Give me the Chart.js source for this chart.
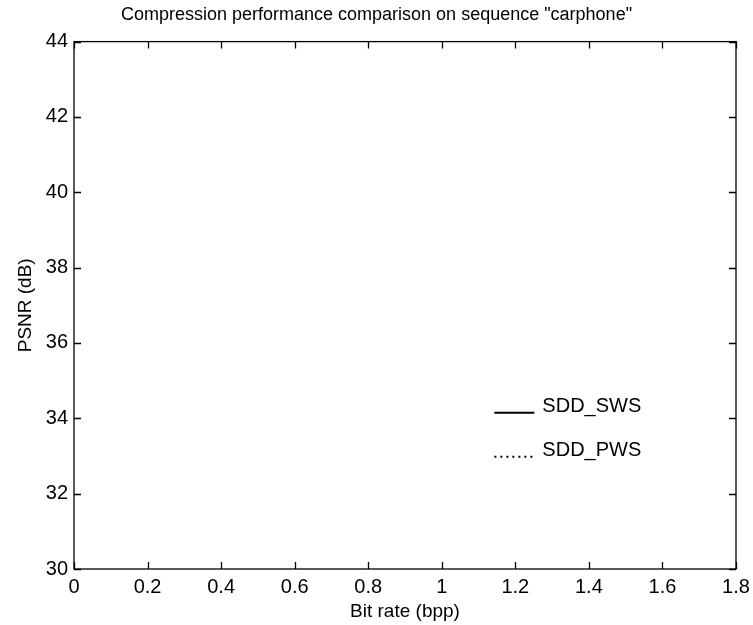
<!DOCTYPE html>
<html>
<head>
<meta charset="utf-8">
<script src="https://cdn.jsdelivr.net/npm/chart.js@4/dist/chart.umd.min.js"></script>
<style>
html,body{margin:0;padding:0;background:#fff;}
canvas{display:block;}
</style>
</head>
<body>
<canvas id="c" width="753" height="625"></canvas>
<script>
// ---- data (the reference plot shows no visible curves, only legend entries) ----
const seriesNames = ["SDD_SWS", "SDD_PWS"];
const sddSwsPoints = [];   // no visible points in the reference
const sddPwsPoints = [];   // no visible points in the reference
const xTickValues = [0, 0.2, 0.4, 0.6, 0.8, 1, 1.2, 1.4, 1.6, 1.8];
const xTickLabels = ["0", "0.2", "0.4", "0.6", "0.8", "1", "1.2", "1.4", "1.6", "1.8"];
const yTickValues = [30, 32, 34, 36, 38, 40, 42, 44];
const yTickLabels = ["30", "32", "34", "36", "38", "40", "42", "44"];
const chartTitle = 'Compression performance comparison on sequence "carphone"';
const xTitle = "Bit rate (bpp)";
const yTitle = "PSNR (dB)";

const FONT = "'Liberation Sans', Arial, Helvetica, sans-serif";

const whiteBg = {
  id: 'whiteBg',
  beforeDraw(chart) {
    const ctx = chart.ctx;
    ctx.save();
    ctx.fillStyle = '#fff';
    ctx.fillRect(0, 0, chart.width, chart.height);
    ctx.restore();
  }
};

// box frame with inward tick marks on all four sides (MATLAB style)
const frameTicks = {
  id: 'frameTicks',
  afterDraw(chart) {
    const ctx = chart.ctx;
    const a = chart.chartArea;
    const xs = chart.scales.x, ys = chart.scales.y;
    const len = 7;
    ctx.save();
    ctx.strokeStyle = '#000';
    ctx.lineWidth = 1.3;
    ctx.strokeRect(a.left, a.top, a.right - a.left, a.bottom - a.top);
    ctx.beginPath();
    xs.ticks.forEach(t => {
      const px = Math.round(xs.getPixelForValue(t.value)) + 0.5;
      ctx.moveTo(px, a.bottom); ctx.lineTo(px, a.bottom - len);
      ctx.moveTo(px, a.top); ctx.lineTo(px, a.top + len);
    });
    ys.ticks.forEach(t => {
      const py = Math.round(ys.getPixelForValue(t.value)) + 0.5;
      ctx.moveTo(a.left, py); ctx.lineTo(a.left + len, py);
      ctx.moveTo(a.right, py); ctx.lineTo(a.right - len, py);
    });
    ctx.stroke();
    ctx.restore();
  }
};

// legend drawn inside the axes, no box, line sample at text baseline
const innerLegend = {
  id: 'innerLegend',
  afterDraw(chart) {
    const ctx = chart.ctx;
    const a = chart.chartArea;
    const w = a.right - a.left, h = a.bottom - a.top;
    const x0 = a.left + w * 0.635;
    const sampleW = 40;
    const y0 = a.top + h * 0.702;
    const rowH = 44;
    ctx.save();
    ctx.font = "20px " + FONT;
    ctx.textBaseline = 'alphabetic';
    ctx.textAlign = 'left';
    chart.data.datasets.forEach((ds, i) => {
      const base = y0 + i * rowH;
      ctx.strokeStyle = ds.borderColor;
      ctx.lineWidth = ds.borderWidth;
      ctx.setLineDash(ds.borderDash || []);
      ctx.beginPath();
      ctx.moveTo(x0, base + 1);
      ctx.lineTo(x0 + sampleW, base + 1);
      ctx.stroke();
      ctx.setLineDash([]);
      ctx.fillStyle = '#000';
      ctx.fillText(ds.label, x0 + sampleW + 8, base);
    });
    ctx.restore();
  }
};

new Chart(document.getElementById('c'), {
  type: 'line',
  data: {
    datasets: [
      { label: seriesNames[0], data: sddSwsPoints, borderColor: '#000', borderWidth: 2, borderDash: [], pointRadius: 0, fill: false },
      { label: seriesNames[1], data: sddPwsPoints, borderColor: '#000', borderWidth: 2, borderDash: [2, 4], pointRadius: 0, fill: false }
    ]
  },
  options: {
    responsive: false,
    animation: false,
    devicePixelRatio: 1,
    layout: { padding: { left: 0, right: 0, top: 0, bottom: 0 } },
    plugins: {
      legend: { display: false },
      tooltip: { enabled: false },
      title: {
        display: true,
        text: chartTitle,
        color: '#000',
        font: { family: FONT, size: 18, weight: 'normal' },
        padding: { top: 4, bottom: 16 }
      }
    },
    scales: {
      x: {
        type: 'linear',
        min: 0, max: 1.8,
        grid: { display: false, drawTicks: false },
        border: { display: false },
        afterBuildTicks: s => { s.ticks = xTickValues.map(v => ({ value: v })); },
        afterFit: s => { s.height = 56; s.paddingRight = 17; s.paddingLeft = 0; },
        ticks: {
          color: '#000',
          font: { family: FONT, size: 20 },
          padding: 6,
          maxRotation: 0,
          autoSkip: false,
          callback: (v, i) => xTickLabels[i]
        },
        title: {
          display: true, text: xTitle, color: '#000',
          font: { family: FONT, size: 19 },
          padding: { top: 0, bottom: 2 }
        }
      },
      y: {
        type: 'linear',
        min: 30, max: 44,
        grid: { display: false, drawTicks: false },
        border: { display: false },
        afterBuildTicks: s => { s.ticks = yTickValues.map(v => ({ value: v })); },
        afterFit: s => { s.width = 74; },
        ticks: {
          color: '#000',
          font: { family: FONT, size: 20 },
          padding: 6,
          autoSkip: false,
          callback: (v, i) => yTickLabels[i]
        },
        title: {
          display: true, text: yTitle, color: '#000',
          font: { family: FONT, size: 19 },
          padding: { top: 14, bottom: 0 }
        }
      }
    }
  },
  plugins: [whiteBg, frameTicks, innerLegend]
});
</script>
</body>
</html>
